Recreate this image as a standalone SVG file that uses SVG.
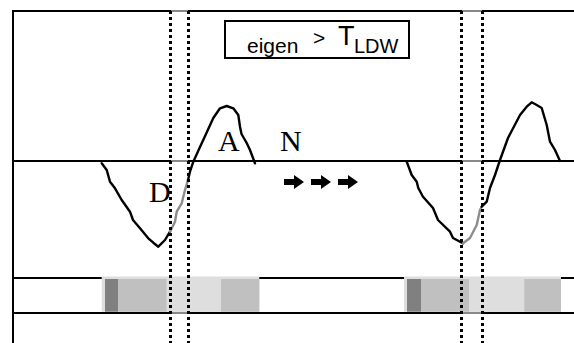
<svg xmlns="http://www.w3.org/2000/svg" width="574" height="343" viewBox="0 0 574 343">
<style>
.ln{stroke:#000;stroke-width:2;fill:none}
.gl{stroke:#888;stroke-width:2;fill:none}
.cv{stroke:#000;stroke-width:2.4;fill:none;stroke-linejoin:round;stroke-linecap:round}
.cg{stroke:#8c8c8c;stroke-width:2.4;fill:none;stroke-linejoin:round;stroke-linecap:round}
.dot{stroke:#000;stroke-width:3;stroke-dasharray:3 3;fill:none}
.lbl{font-family:"Liberation Serif","Times New Roman",serif;font-size:30px;fill:#000}
.sans{font-family:"Liberation Sans",Arial,sans-serif;fill:#000}
.lt{fill:#dedede}.md{fill:#c0c0c0}.dk{fill:#808080}
</style>
<defs>
<path id="arr" d="M0,-3 H10 V-7 L20,0 L10,7 V3 H0 Z" fill="#000"/>
</defs>
<g id="frame">
<line class="ln" x1="13" y1="11" x2="574" y2="11"/>
<line class="ln" x1="13" y1="10" x2="13" y2="343"/>
<line class="ln" x1="13" y1="161" x2="574" y2="161"/>
<line class="ln" x1="13" y1="278" x2="574" y2="278"/>
<line class="ln" x1="13" y1="313" x2="574" y2="313"/>
<line class="gl" x1="171" y1="11" x2="188" y2="11"/>
<line class="gl" x1="462" y1="11" x2="482" y2="11"/>
<line class="gl" x1="171" y1="161" x2="188" y2="161"/>
<line class="gl" x1="462" y1="161" x2="482" y2="161"/>
<line class="gl" x1="172" y1="313" x2="187" y2="313"/>
<line class="gl" x1="463" y1="313" x2="481" y2="313"/>
</g>
<g id="strip-left">
<rect class="lt" x="101.7" y="276.5" width="157.6" height="35.2"/>
<rect class="dk" x="105" y="279" width="13.3" height="32.7"/>
<rect class="md" x="118.3" y="279" width="48.4" height="32.7"/>
<rect class="lt" x="166.7" y="279" width="54.3" height="32.7"/>
<rect class="md" x="221" y="279" width="38.3" height="32.7"/>
</g>
<g id="strip-right">
<rect class="lt" x="404" y="276.5" width="157" height="35.2"/>
<rect class="dk" x="407" y="279" width="14" height="32.7"/>
<rect class="md" x="421" y="279" width="48" height="32.7"/>
<rect class="lt" x="469" y="279" width="55.3" height="32.7"/>
<rect class="md" x="524.3" y="279" width="36.7" height="32.7"/>
</g>
<g id="curve-left">
<polyline class="cv" points="101.7,163.3 106.7,170 110,181.7 115,188.3 121.7,200 130,211.7 133,220 140,228.3 148.3,238.3 153.3,242.7 158.3,246.7 165,240 170,231.7"/>
<polyline class="cg" points="170,231.7 175,221.7 176.7,211.7 181.7,203.3 185,190 188,180"/>
<polyline class="cv" points="188,180 190,171.7 193.3,161.7 200,147 206,134 213.3,118 220,108.3 226.7,106 233.3,108.3 238.3,115 240,126.7 241.5,134 246.7,143 250,150 255,163.3"/>
</g>
<g id="curve-right">
<polyline class="cv" points="406.7,161.7 411.7,175 416.7,181.7 418.3,188 423,196.7 433,208 438,220 450,231.7 453,238 460,241.7 463,243.3"/>
<polyline class="cg" points="463,243.3 470,238 476.7,225 480,210 481.7,206.7"/>
<polyline class="cv" points="481.7,206.7 486.7,201.7 490,188 495,175 500,160 508,138 520,115 526.7,106.7 531.7,102.3 536.7,105 541.7,108 546.7,125 550,141.7 555,150 560,161"/>
</g>
<g id="connectors">
<line class="dot" x1="170.5" y1="11" x2="170.5" y2="343"/>
<line class="dot" x1="188.5" y1="11" x2="188.5" y2="343"/>
<line class="dot" x1="461.5" y1="11" x2="461.5" y2="343"/>
<line class="dot" x1="482.5" y1="11" x2="482.5" y2="343"/>
</g>
<g id="label-box">
<rect x="225" y="21" width="184" height="37" fill="none" stroke="#000" stroke-width="2"/>
<text class="sans" x="247" y="53" font-size="21">eigen</text>
<text class="sans" x="313" y="45" font-size="21">&gt;</text>
<text class="sans" x="338" y="45" font-size="27">T</text>
<text class="sans" x="354" y="53" font-size="20">LDW</text>
</g>
<g id="label-A"><text class="lbl" x="218" y="151">A</text></g>
<g id="label-N"><text class="lbl" x="280" y="151">N</text></g>
<g id="label-D"><text class="lbl" x="149" y="201.5">D</text></g>
<g id="arrows">
<use href="#arr" x="284" y="182"/>
<use href="#arr" x="311" y="182"/>
<use href="#arr" x="338" y="182"/>
</g>
</svg>
